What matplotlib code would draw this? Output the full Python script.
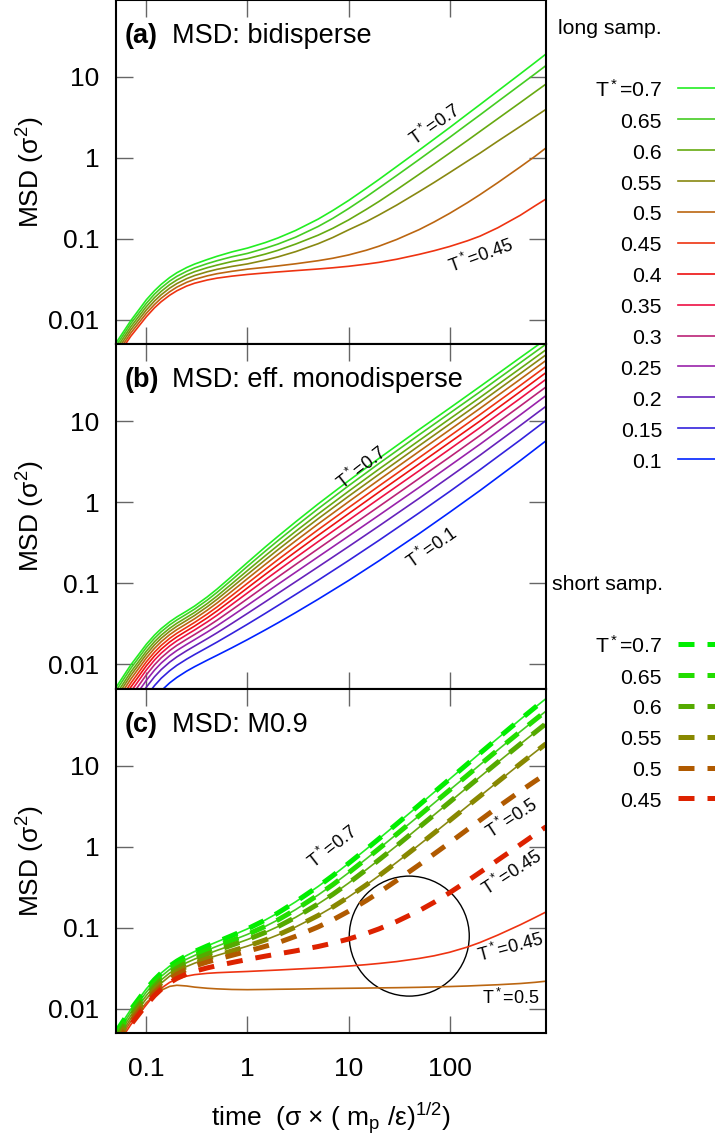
import matplotlib
matplotlib.use("Agg")
import matplotlib.pyplot as plt
from matplotlib.patches import Ellipse
from matplotlib.ticker import NullLocator, FixedLocator, FixedFormatter

plt.rcParams['font.family'] = ['Liberation Sans', 'DejaVu Sans']
plt.rcParams['mathtext.fontset'] = 'custom'
plt.rcParams['mathtext.rm'] = 'Liberation Sans'
plt.rcParams['mathtext.it'] = 'Liberation Sans:italic'
plt.rcParams['mathtext.bf'] = 'Liberation Sans:bold'

# time grid for panels (a) and (c)
time = [0.05, 0.07, 0.1, 0.12, 0.14, 0.17, 0.2, 0.25, 0.3, 0.4, 0.5, 0.7, 1, 1.5, 2, 3, 5, 7,
        10, 15, 20, 30, 50, 70, 100, 150, 200, 300, 500, 700, 900]
# time grid for panel (b)
time_b = [0.05, 0.07, 0.1, 0.12, 0.14, 0.17, 0.2, 0.25, 0.3, 0.4, 0.5, 0.7, 1, 1.5, 2, 3, 5,
          10, 20, 50, 100, 200, 500, 900]

# (a) bidisperse, long sampling
a_070 = [0.0052, 0.0098, 0.0178, 0.0229, 0.0275, 0.0334, 0.0382, 0.0443, 0.0489, 0.0556, 0.061, 0.069, 0.077,
         0.090, 0.1025, 0.127, 0.175, 0.224, 0.297, 0.42, 0.54, 0.78, 1.24, 1.69, 2.35, 3.45, 4.52, 6.65, 10.8, 14.9, 19.0]
a_065 = [0.00478, 0.00902, 0.0161, 0.0208, 0.0249, 0.0302, 0.0345, 0.0398, 0.0438, 0.0495, 0.0538, 0.0601, 0.0662,
         0.0766, 0.0862, 0.105, 0.142, 0.179, 0.236, 0.330, 0.424, 0.604, 0.952, 1.29, 1.78, 2.59, 3.37, 4.92, 7.90, 10.8, 13.7]
a_060 = [0.00439, 0.00824, 0.01466, 0.01884, 0.02254, 0.0273, 0.0311, 0.0359, 0.0394, 0.0441, 0.0475, 0.0525, 0.0570,
         0.0649, 0.0722, 0.0863, 0.111, 0.135, 0.171, 0.231, 0.289, 0.404, 0.625, 0.835, 1.14, 1.63, 2.11, 3.03, 4.78, 6.47, 8.1]
a_055 = [0.00403, 0.00755, 0.01333, 0.0171, 0.02046, 0.0247, 0.0281, 0.0323, 0.0353, 0.0393, 0.0421, 0.0457, 0.0491,
         0.0547, 0.0599, 0.0696, 0.0871, 0.104, 0.129, 0.163, 0.197, 0.261, 0.382, 0.494, 0.655, 0.907, 1.14, 1.60, 2.43, 3.21, 3.95]
a_050 = [0.0037, 0.0069, 0.01211, 0.01549, 0.01854, 0.0223, 0.0254, 0.0291, 0.0317, 0.0350, 0.0372, 0.0398, 0.0423,
         0.0446, 0.0464, 0.0493, 0.0538, 0.0577, 0.0633, 0.0724, 0.0812, 0.0983, 0.130, 0.161, 0.206, 0.279, 0.351, 0.493, 0.77, 1.04, 1.32]
a_045 = [0.0034, 0.0063, 0.0110, 0.0141, 0.0168, 0.0202, 0.0229, 0.0262, 0.0284, 0.0311, 0.0328, 0.0347, 0.0364,
         0.0380, 0.0391, 0.0406, 0.0425, 0.044, 0.0459, 0.0488, 0.0513, 0.0561, 0.0644, 0.0713, 0.0805, 0.0946, 0.108, 0.137, 0.195, 0.255, 0.31]

# (b) effectively monodisperse, long sampling
b_070 = [0.0052, 0.00984, 0.01774, 0.0229, 0.02757, 0.03347, 0.03843, 0.0454, 0.0524, 0.0679, 0.0848, 0.122,
         0.1805, 0.280, 0.378, 0.572, 0.949, 1.83, 3.46, 7.85, 14.4, 26.6, 60.4, 102]
b_065 = [0.00472, 0.00894, 0.01618, 0.02094, 0.02524, 0.03069, 0.03526, 0.04172, 0.04806, 0.06204, 0.0772, 0.1102,
         0.1619, 0.2487, 0.3347, 0.503, 0.829, 1.59, 2.99, 6.77, 12.45, 22.9, 52.2, 88.6]
b_060 = [0.00424, 0.00805, 0.0146, 0.0190, 0.0229, 0.0279, 0.0321, 0.0380, 0.0437, 0.0562, 0.0696, 0.0986,
         0.1435, 0.2185, 0.2925, 0.4365, 0.714, 1.36, 2.55, 5.75, 10.6, 19.5, 44.4, 75.6]
b_055 = [0.00385, 0.00731, 0.01332, 0.01735, 0.02098, 0.02559, 0.02945, 0.03487, 0.04011, 0.05136, 0.06338, 0.08905,
         0.1286, 0.1942, 0.2587, 0.3839, 0.624, 1.18, 2.20, 4.96, 9.13, 16.8, 38.4, 65.5]
b_050 = [0.00346, 0.00658, 0.01204, 0.01572, 0.01904, 0.02326, 0.02679, 0.03175, 0.0365, 0.04654, 0.05713, 0.07963,
         0.1140, 0.1707, 0.2260, 0.3331, 0.5375, 1.01, 1.88, 4.22, 7.76, 14.3, 32.7, 55.8]
b_045 = [0.00308, 0.00586, 0.01078, 0.01411, 0.01713, 0.02096, 0.02417, 0.02866, 0.03292, 0.04178, 0.05104, 0.0705,
         0.0999, 0.1481, 0.1951, 0.2854, 0.457, 0.854, 1.58, 3.53, 6.50, 12.0, 27.4, 47.0]
b_040 = [0.00275, 0.00523, 0.00965, 0.01267, 0.01541, 0.01889, 0.02181, 0.02587, 0.0297, 0.03752, 0.04559, 0.0624,
         0.0876, 0.1286, 0.1683, 0.2445, 0.3885, 0.720, 1.33, 2.96, 5.44, 10.0, 23.0, 39.5]
b_035 = [0.00242, 0.00461, 0.00855, 0.01128, 0.01375, 0.01688, 0.0195, 0.02316, 0.02655, 0.03338, 0.04034, 0.05468,
         0.07598, 0.1104, 0.1435, 0.2068, 0.3259, 0.599, 1.10, 2.44, 4.49, 8.29, 19.0, 32.7]
b_030 = [0.00209, 0.0040, 0.00745, 0.00986, 0.01205, 0.01482, 0.01715, 0.02038, 0.02334, 0.02917, 0.03503, 0.04697,
         0.06447, 0.0925, 0.1194, 0.1705, 0.266, 0.485, 0.883, 1.96, 3.59, 6.64, 15.3, 26.3]
b_025 = [0.00178, 0.00339, 0.00637, 0.00847, 0.01037, 0.01279, 0.01481, 0.01762, 0.02017, 0.02505, 0.02986, 0.03952,
         0.05349, 0.0757, 0.0969, 0.1369, 0.2114, 0.381, 0.689, 1.52, 2.80, 5.17, 11.9, 20.6]
b_020 = [0.00145, 0.00278, 0.00525, 0.00702, 0.00862, 0.01066, 0.01237, 0.01473, 0.01683, 0.02074, 0.02451, 0.03193,
         0.0425, 0.0591, 0.0749, 0.1045, 0.1591, 0.283, 0.508, 1.115, 2.05, 3.79, 8.78, 15.2]
b_015 = [0.00111, 0.00212, 0.00405, 0.00546, 0.00674, 0.00836, 0.00973, 0.0116, 0.01323, 0.01613, 0.01883, 0.02403,
         0.03126, 0.04251, 0.05311, 0.07284, 0.1089, 0.1905, 0.338, 0.737, 1.35, 2.51, 5.83, 10.15]
b_010 = [0.00075, 0.00145, 0.0028, 0.00381, 0.00473, 0.00592, 0.0069, 0.00825, 0.00937, 0.01127, 0.01294, 0.0160,
         0.0202, 0.0266, 0.0325, 0.0435, 0.0635, 0.108, 0.189, 0.409, 0.749, 1.39, 3.25, 5.7]

# (c) M0.9, short sampling (dashed); long sampling for 0.7-0.55 coincides with it
c_070 = [0.0052, 0.00984, 0.01774, 0.0230, 0.02774, 0.03382, 0.0389, 0.04568, 0.05113, 0.0599, 0.06728, 0.08014, 0.0972,
         0.1249, 0.1527, 0.2097, 0.3236, 0.4409, 0.6232, 0.935, 1.254, 1.911, 3.268, 4.669, 6.812, 10.47, 14.21, 21.74, 36.98, 52.12, 67.0]
c_065 = [0.00478, 0.00905, 0.0162, 0.0210, 0.0252, 0.0307, 0.0352, 0.0411, 0.0457, 0.0532, 0.0594, 0.0698, 0.0831,
         0.1043, 0.1253, 0.168, 0.254, 0.341, 0.477, 0.710, 0.947, 1.43, 2.42, 3.44, 4.99, 7.60, 10.25, 15.6, 26.2, 36.7, 47.0]
c_060 = [0.00439, 0.00826, 0.0147, 0.0190, 0.0228, 0.0278, 0.0318, 0.0372, 0.0412, 0.0476, 0.0528, 0.0612, 0.0718,
         0.0879, 0.1036, 0.135, 0.197, 0.259, 0.356, 0.522, 0.689, 1.03, 1.74, 2.46, 3.55, 5.40, 7.26, 11.0, 18.4, 25.7, 33.0]
c_055 = [0.00403, 0.00757, 0.0134, 0.0173, 0.0208, 0.0254, 0.0290, 0.0334, 0.0367, 0.0418, 0.0457, 0.0519, 0.0596,
         0.0710, 0.0818, 0.1026, 0.142, 0.181, 0.240, 0.339, 0.439, 0.643, 1.055, 1.47, 2.10, 3.16, 4.21, 6.31, 10.5, 14.6, 18.6]
c_050 = [0.0037, 0.0070, 0.0123, 0.0159, 0.0190, 0.0231, 0.0268, 0.0308, 0.0338, 0.0379, 0.0410, 0.0458, 0.0515,
         0.0592, 0.0656, 0.0787, 0.1027, 0.1257, 0.160, 0.217, 0.273, 0.384, 0.599, 0.811, 1.12, 1.63, 2.12, 3.08, 4.83, 6.43, 7.9]
c_045 = [0.0034, 0.0064, 0.0113, 0.0146, 0.0175, 0.0211, 0.0238, 0.0270, 0.0292, 0.0321, 0.0342, 0.0373, 0.0408,
         0.0448, 0.0477, 0.0521, 0.0589, 0.0648, 0.0728, 0.0853, 0.0971, 0.120, 0.163, 0.206, 0.271, 0.378, 0.483, 0.684, 1.06, 1.42, 1.76]
# (c) long sampling for 0.5 and 0.45
c_long_050 = [0.0037, 0.0070, 0.0120, 0.0148, 0.0170, 0.0190, 0.0196, 0.0192, 0.0186, 0.0180, 0.0177, 0.0174, 0.0173,
              0.0174, 0.0175, 0.0176, 0.0178, 0.0179, 0.0180, 0.0181, 0.0182, 0.0183, 0.0185, 0.0187, 0.0189, 0.0192, 0.0195, 0.0199, 0.0206, 0.0213, 0.0220]
c_long_045 = [0.0034, 0.0064, 0.0113, 0.0150, 0.0180, 0.0213, 0.0234, 0.0254, 0.0265, 0.0275, 0.0280, 0.0285, 0.0290,
              0.0297, 0.0302, 0.0310, 0.0320, 0.0328, 0.0338, 0.0352, 0.0364, 0.0384, 0.0420, 0.0452, 0.0500, 0.0580, 0.0660, 0.0815, 0.109, 0.134, 0.157]

temps_long = ['T$^*$=0.7', '0.65', '0.6', '0.55', '0.5', '0.45', '0.4', '0.35', '0.3', '0.25', '0.2', '0.15', '0.1']
colors_long = ['#22ee22', '#44cc22', '#66aa11', '#888811', '#bb6611', '#ee3311', '#ee1111',
               '#ee1144', '#bb2277', '#9922aa', '#6622bb', '#3322dd', '#0022ff']
temps_short = ['T$^*$=0.7', '0.65', '0.6', '0.55', '0.5', '0.45']
colors_short = ['#00ee00', '#22dd00', '#55aa00', '#888800', '#b05a00', '#dd2200']

W, H = 715, 1139
fig = plt.figure(figsize=(W / 100, H / 100), dpi=100)

left, right = 116, 546
tops = [0, 344.4, 689]
pan_h = 344.4
axes = []
for top in tops:
    ax = fig.add_axes([left / W, 1 - (top + pan_h) / H, (right - left) / W, pan_h / H])
    axes.append(ax)

for i, ax in enumerate(axes):
    ax.set_xscale('log')
    ax.set_yscale('log')
    ax.set_xlim(0.05, 900)
    ax.set_ylim(0.005, 88)
    ax.xaxis.set_major_locator(FixedLocator([0.1, 1, 10, 100]))
    ax.xaxis.set_major_formatter(FixedFormatter(['0.1', '1', '10', '100']))
    ax.yaxis.set_major_locator(FixedLocator([0.01, 0.1, 1, 10]))
    ax.yaxis.set_major_formatter(FixedFormatter(['0.01', '0.1', '1', '10']))
    ax.xaxis.set_minor_locator(NullLocator())
    ax.yaxis.set_minor_locator(NullLocator())
    ax.tick_params(direction='in', top=True, right=True, length=12, width=1,
                   color='#666666', labelsize=19)
    ax.tick_params(axis='x', pad=17, labelbottom=(i == 2))
    ax.tick_params(axis='y', pad=12)
    for sp in ax.spines.values():
        sp.set_linewidth(1.5)
    ax.set_ylabel('MSD (σ$^2$)', fontsize=19)
    ax.yaxis.set_label_coords(-0.16, 0.5)

# panel (a)
ax = axes[0]
for m, c in zip([a_070, a_065, a_060, a_055, a_050, a_045], colors_long[:6]):
    ax.plot(time, m, color=c, lw=1.2)
ax.text(71, 2.5, 'T$^*$=0.7', fontsize=13, rotation=35, ha='center', va='center')
ax.text(204, 0.062, 'T$^*$=0.45', fontsize=13, rotation=20, ha='center', va='center')

# panel (b)
ax = axes[1]
b_all = [b_070, b_065, b_060, b_055, b_050, b_045, b_040, b_035, b_030, b_025, b_020, b_015, b_010]
for m, c in zip(b_all, colors_long):
    ax.plot(time_b, m, color=c, lw=1.2)
ax.text(13.6, 2.6, 'T$^*$=0.7', fontsize=13, rotation=38, ha='center', va='center')
ax.text(67, 0.27, 'T$^*$=0.1', fontsize=13, rotation=35, ha='center', va='center')

# panel (c)
ax = axes[2]
c_all = [c_070, c_065, c_060, c_055, c_050, c_045]
for m, c in zip(c_all[:4], colors_long[:4]):
    ax.plot(time, m, color=c, lw=1.2)
ax.plot(time, c_long_050, color=colors_long[4], lw=1.2)
ax.plot(time, c_long_045, color=colors_long[5], lw=1.2)
for m, c in zip(c_all, colors_short):
    ax.plot(time, m, color=c, lw=3.6, dashes=(3.2, 2.6))
ax.text(7, 0.99, 'T$^*$=0.7', fontsize=13, rotation=38, ha='center', va='center')
ax.text(414, 2.25, 'T$^*$=0.5', fontsize=13, rotation=33, ha='center', va='center')
ax.text(414, 0.47, 'T$^*$=0.45', fontsize=13, rotation=33, ha='center', va='center')
ax.text(400, 0.057, 'T$^*$=0.45', fontsize=13, rotation=15, ha='center', va='center')
ax.text(400, 0.0135, 'T$^*$=0.5', fontsize=13, ha='center', va='center')
ax.add_patch(Ellipse((0.682, 0.2825), 120 / 430, 120 / pan_h, transform=ax.transAxes,
                     fill=False, lw=1.0, color='black'))
ax.set_xlabel('time  (σ × ( m$_\\mathrm{p}$ /ε)$^{1/2}$)', fontsize=19)
ax.xaxis.set_label_coords(0.5, -0.195)

titles = ['MSD: bidisperse', 'MSD: eff. monodisperse', 'MSD: M0.9']
for ax, tag, title in zip(axes, ['(a)', '(b)', '(c)'], titles):
    ax.text(0.021, 0.875, tag, transform=ax.transAxes, fontsize=19.5, fontweight='bold')
    ax.text(0.130, 0.875, title, transform=ax.transAxes, fontsize=19.5)

# legend column
lg = fig.add_axes([right / W, 0, (W - right) / W, 1])
lg.set_xlim(right, W)
lg.set_ylim(H, 0)
lg.axis('off')
lg.text(558, 34.5, 'long samp.', fontsize=15.3, ha='left', va='baseline')
for k, (lab, c) in enumerate(zip(temps_long, colors_long)):
    y = 88.3 + 30.9 * k
    lg.plot([678, 730], [y, y], color=c, lw=1.2)
    lg.text(662, y + 8.5, lab, fontsize=15.3, ha='right', va='baseline')
lg.text(552, 590, 'short samp.', fontsize=15.3, ha='left', va='baseline')
for k, (lab, c) in enumerate(zip(temps_short, colors_short)):
    y = 644.3 + 30.8 * k
    lg.plot([678, 730], [y, y], color=c, lw=3.6, dashes=(3.2, 2.6))
    lg.text(662, y + 8.5, lab, fontsize=15.3, ha='right', va='baseline')

fig.savefig('out.png', dpi=100)
